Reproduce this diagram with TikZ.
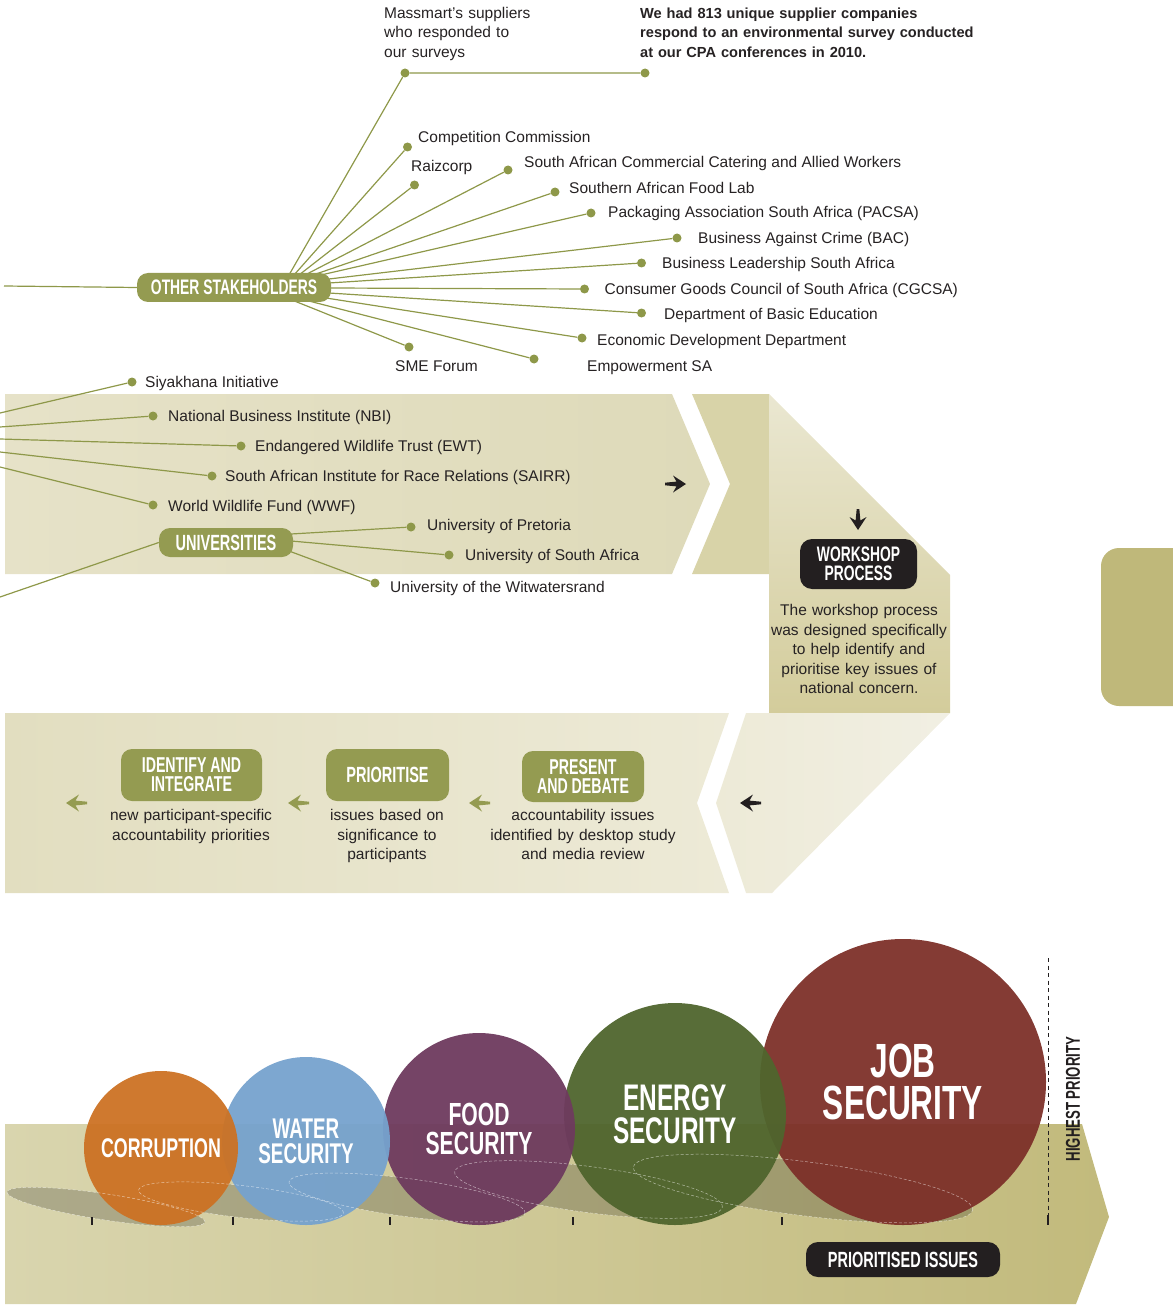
\documentclass[tikz,border=0pt]{standalone}
\usepackage{fontspec}
\setmainfont{Liberation Sans}
\newfontfamily\headfont[FakeStretch=0.66]{Liberation Sans}
\usetikzlibrary{calc}

\definecolor{spokecol}{HTML}{8E9849}
\definecolor{boxolive}{HTML}{949B51}
\definecolor{txtcol}{HTML}{262223}
\definecolor{inkblack}{HTML}{231F20}
\definecolor{bandA}{HTML}{E6E2C8}
\definecolor{bandB}{HTML}{DEDAB9}
\definecolor{chevcol}{HTML}{D8D3A8}
\definecolor{wsTop}{HTML}{EAE7D1}
\definecolor{wsBot}{HTML}{D3CC9B}
\definecolor{lowA}{HTML}{E2DEC0}
\definecolor{lowB}{HTML}{EDEAD7}
\definecolor{lowC}{HTML}{F1EFE3}
\definecolor{baseA}{HTML}{D9D5AE}
\definecolor{baseB}{HTML}{C2BA7C}
\definecolor{tabcol}{HTML}{BFB87A}
\definecolor{corrcol}{HTML}{CC7224}
\definecolor{watercol}{HTML}{76A2CE}
\definecolor{foodcol}{HTML}{6E3A5E}
\definecolor{energycol}{HTML}{4F652D}
\definecolor{jobcol}{HTML}{7D3029}

\newcommand\txtsize{\fontsize{15.5}{19.5}\selectfont}
\newcommand\headsize[2]{\headfont\bfseries\fontsize{#1}{#2}\selectfont}
% solid dart-shaped flow arrow: tip at (#1,#2), direction #3, colour #4
\newcommand\flowdart[4]{\fill[#4,shift={(#1,#2)},rotate=#3]
  (0,0) -- (-13,-8.5) -- (-9.5,-2.4) -- (-21,-1.3) -- (-21,1.3) -- (-9.5,2.4) -- (-13,8.5) -- cycle;}

\begin{document}
\begin{tikzpicture}[x=1pt,y=-1pt,
  spoke/.style={draw=spokecol,line width=1.2pt},
  dot/.style={circle,fill=spokecol,inner sep=0pt,minimum size=9pt},
  lbl/.style={anchor=base west,inner sep=0pt,text=txtcol,font=\txtsize},
  para/.style={anchor=base,inner sep=0pt,text=txtcol,font=\txtsize,align=center,text width=220pt},
  olivebox/.style={rounded corners=11pt,fill=boxolive,text=white,inner sep=0pt,align=center},
  inkbox/.style={rounded corners=12pt,fill=inkblack,text=white,inner sep=0pt,align=center},
  issue/.style={circle,inner sep=0pt,fill opacity=0.95,text opacity=1,text=white,align=center},
  tick/.style={draw=inkblack,line width=2pt}
]
\useasboundingbox (0,0) rectangle (1172,1305);

% ---------- background bands ----------
\shade[left color=bandA,right color=bandB]
  (5,394) -- (672,394) -- (710,484) -- (672,574) -- (5,574) -- cycle;
\fill[chevcol] (692,394) -- (769,394) -- (769,574) -- (692,574) -- (730,484) -- cycle;
\shade[top color=wsTop,bottom color=wsBot]
  (769,394) -- (950,575) -- (950,713) -- (769,713) -- cycle;
\shade[left color=lowA,right color=lowB]
  (5,713) -- (729,713) -- (697,803) -- (729,893) -- (5,893) -- cycle;
\shade[left color=lowB,right color=lowC]
  (746,713) -- (950,713) -- (772,893) -- (746,893) -- (716,803) -- cycle;
\fill[tabcol,rounded corners=18pt] (1101,548) rectangle (1200,706);
\shade[left color=baseA,right color=baseB]
  (5,1124) -- (1082,1124) -- (1109,1217) -- (1076,1304) -- (5,1304) -- cycle;

% ---------- stakeholder dots ----------
\node[dot] (dMass)  at (405,73) {};
\node[dot] (dMassR) at (645,73) {};
\node[dot] (dCC)    at (407.5,147) {};
\node[dot] (dRaiz)  at (414.5,185) {};
\node[dot] (dSacc)  at (508,170) {};
\node[dot] (dSafl)  at (555,192) {};
\node[dot] (dPacsa) at (591,213) {};
\node[dot] (dBac)   at (677,238) {};
\node[dot] (dBlsa)  at (641.5,263) {};
\node[dot] (dCgc)   at (584.5,289) {};
\node[dot] (dDbe)   at (641.5,313) {};
\node[dot] (dEdd)   at (582,338) {};
\node[dot] (dEsa)   at (534,359) {};
\node[dot] (dSme)   at (409,347) {};
\node[dot] (dSiya)  at (132,382) {};
\node[dot] (dNbi)   at (153,416) {};
\node[dot] (dEwt)   at (241,446) {};
\node[dot] (dSairr) at (212,476) {};
\node[dot] (dWwf)   at (153,505) {};
\node[dot] (dUp)    at (411,527) {};
\node[dot] (dUnisa) at (449,555) {};
\node[dot] (dWits)  at (375,583) {};

% spoke roots on the hub border
\coordinate (hMass)  at (289,275);
\coordinate (hCC)    at (294,275);
\coordinate (hRaiz)  at (299,275);
\coordinate (hSacc)  at (305,275);
\coordinate (hSafl)  at (313,275);
\coordinate (hPacsa) at (321,275);
\coordinate (hBac)   at (329,279);
\coordinate (hBlsa)  at (329,283);
\coordinate (hCgc)   at (329,288);
\coordinate (hDbe)   at (329,293);
\coordinate (hEdd)   at (326,298);
\coordinate (hEsa)   at (305,300);
\coordinate (hSme)   at (292,300);
\coordinate (uUp)    at (291,534);
\coordinate (uUnisa) at (291,541);
\coordinate (uWits)  at (289,551);
\coordinate (eSiya)  at (0,413);
\coordinate (eNbi)   at (0,427);
\coordinate (eEwt)   at (0,439);
\coordinate (eSairr) at (0,452);
\coordinate (eWwf)   at (0,467);
\coordinate (eUni)   at (0,597);
\coordinate (eHub)   at (4,286);

\draw[spoke] (hMass) -- (dMass) -- (dMassR);
\foreach \n in {CC,Raiz,Sacc,Safl,Pacsa,Bac,Blsa,Cgc,Dbe,Edd,Esa,Sme}
  \draw[spoke] (h\n) -- (d\n);
\foreach \n in {Siya,Nbi,Ewt,Sairr,Wwf}
  \draw[spoke] (e\n) -- (d\n);
\foreach \n in {Up,Unisa,Wits}
  \draw[spoke] (u\n) -- (d\n);

% ---------- hubs ----------
\node[olivebox,minimum width=194pt,minimum height=29pt,font=\headsize{21}{21}]
  (hub) at (234,287.5) {OTHER STAKEHOLDERS};
\node[olivebox,minimum width=134pt,minimum height=29pt,font=\headsize{22}{22}]
  (uni) at (226,542.5) {UNIVERSITIES};
\draw[spoke] (eHub) -- (hub.west);
\draw[spoke] (eUni) -- (uni.west);

% ---------- labels ----------
\node[para,anchor=base west,align=left,text width=170pt] (tMass) at (384,18.5)
  {Massmart’s suppliers\\who responded to\\our surveys};
\node[para,anchor=base west,align=left,text width=360pt,font=\bfseries\fontsize{14.6}{19.5}\selectfont]
  (tSurvey) at (640,18.5)
  {We had 813 unique supplier companies\\respond to an environmental survey conducted\\at our CPA conferences in 2010.};
\node[lbl] (lCC)    at (418,142.5) {Competition Commission};
\node[lbl] (lRaiz)  at (411,171.5) {Raizcorp};
\node[lbl] (lSacc)  at (524,167.5) {South African Commercial Catering and Allied Workers};
\node[lbl] (lSafl)  at (569,193.5) {Southern African Food Lab};
\node[lbl] (lPacsa) at (608,217.5) {Packaging Association South Africa (PACSA)};
\node[lbl] (lBac)   at (698,243.5) {Business Against Crime (BAC)};
\node[lbl] (lBlsa)  at (662,268.5) {Business Leadership South Africa};
\node[lbl] (lCgc)   at (604.5,294.5) {Consumer Goods Council of South Africa (CGCSA)};
\node[lbl] (lDbe)   at (664,319.5) {Department of Basic Education};
\node[lbl] (lEdd)   at (597,345.5) {Economic Development Department};
\node[lbl] (lEsa)   at (587,371.5) {Empowerment SA};
\node[lbl] (lSme)   at (395,371.5) {SME Forum};
\node[lbl] (lSiya)  at (145,387.5) {Siyakhana Initiative};
\node[lbl] (lNbi)   at (168,421.5) {National Business Institute (NBI)};
\node[lbl] (lEwt)   at (255,451.5) {Endangered Wildlife Trust (EWT)};
\node[lbl] (lSairr) at (225,481.5) {South African Institute for Race Relations (SAIRR)};
\node[lbl] (lWwf)   at (168,511.5) {World Wildlife Fund (WWF)};
\node[lbl] (lUp)    at (427,530.5) {University of Pretoria};
\node[lbl] (lUnisa) at (465,560.5) {University of South Africa};
\node[lbl] (lWits)  at (390,592.5) {University of the Witwatersrand};

% ---------- workshop process ----------
\node[inkbox,minimum width=117pt,minimum height=50pt,font=\headsize{21}{19}]
  (ws) at (858.5,564) {WORKSHOP\\PROCESS};
\node[para] (wsText) at (859,615.5)
  {The workshop process\\was designed specifically\\to help identify and\\prioritise key issues of\\national concern.};

% ---------- process steps ----------
\node[olivebox,minimum width=141pt,minimum height=52pt,font=\headsize{21.5}{19}]
  (sIdent) at (191.5,775) {IDENTIFY AND\\INTEGRATE};
\node[olivebox,minimum width=123pt,minimum height=52pt,font=\headsize{22}{18}]
  (sPrio) at (387.5,775) {PRIORITISE};
\node[olivebox,minimum width=122pt,minimum height=51pt,font=\headsize{21.5}{19}]
  (sPres) at (583,776.5) {PRESENT\\AND DEBATE};
\node[para] (tIdent) at (191,820.5) {new participant-specific\\accountability priorities};
\node[para] (tPrio)  at (387,820.5) {issues based on\\significance to\\participants};
\node[para] (tPres)  at (583,820.5) {accountability issues\\identified by desktop study\\and media review};

% flow arrows
\flowdart{686}{484}{0}{inkblack}
\flowdart{858}{530}{-90}{inkblack}
\flowdart{740}{803}{180}{inkblack}
\flowdart{469}{803}{180}{boxolive}
\flowdart{288}{803}{180}{boxolive}
\flowdart{66}{803}{180}{boxolive}

% ---------- prioritised issues ----------
\fill[black,fill opacity=0.2]
  (106,1207)    circle [x radius=100pt, y radius=13pt, rotate=-8.6]
  (241,1201.5)  circle [x radius=103pt, y radius=16pt, rotate=-6.4]
  (407,1197.5)  circle [x radius=119pt, y radius=19pt, rotate=-7.5]
  (588.5,1189.5) circle [x radius=135pt, y radius=23pt, rotate=-7.5]
  (803,1188.5)  circle [x radius=171pt, y radius=27pt, rotate=-7.2];

\node[issue,minimum size=286pt,fill=jobcol,font=\headsize{48}{42}]
  (job) at (903,1082) {JOB\\SECURITY};
\node[issue,minimum size=222pt,fill=energycol,font=\headsize{37}{32.5}]
  (energy) at (675,1114) {ENERGY\\SECURITY};
\node[issue,minimum size=192pt,fill=foodcol,font=\headsize{32}{28.5}]
  (food) at (479,1129) {FOOD\\SECURITY};
\node[issue,minimum size=168pt,fill=watercol,font=\headsize{28.5}{25}]
  (water) at (306,1141) {WATER\\SECURITY};
\node[issue,minimum size=154pt,fill=corrcol,font=\headsize{27}{27}]
  (corr) at (161,1148) {CORRUPTION};

\draw[white,draw opacity=0.55,line width=0.5pt,dash pattern=on 3pt off 2pt]
  (106,1207)    circle [x radius=100pt, y radius=13pt, rotate=-8.6]
  (241,1201.5)  circle [x radius=103pt, y radius=16pt, rotate=-6.4]
  (407,1197.5)  circle [x radius=119pt, y radius=19pt, rotate=-7.5]
  (588.5,1189.5) circle [x radius=135pt, y radius=23pt, rotate=-7.5]
  (803,1188.5)  circle [x radius=171pt, y radius=27pt, rotate=-7.2];

\foreach \tx in {92,233,390,573,782}
  \draw[tick] (\tx,1217) -- (\tx,1225);
\draw[inkblack,line width=1pt,dash pattern=on 4pt off 3.5pt] (1048,958) -- (1048,1215);
\draw[tick] (1048,1215) -- (1048,1225);

\node[rotate=90,inner sep=0pt,text=inkblack,font=\headsize{20}{20}] (hp) at (1073,1099) {HIGHEST PRIORITY};
\node[inkbox,minimum width=194pt,minimum height=35pt,font=\headsize{22}{22}]
  (pIss) at (903,1259.5) {PRIORITISED ISSUES};
\end{tikzpicture}
\end{document}
